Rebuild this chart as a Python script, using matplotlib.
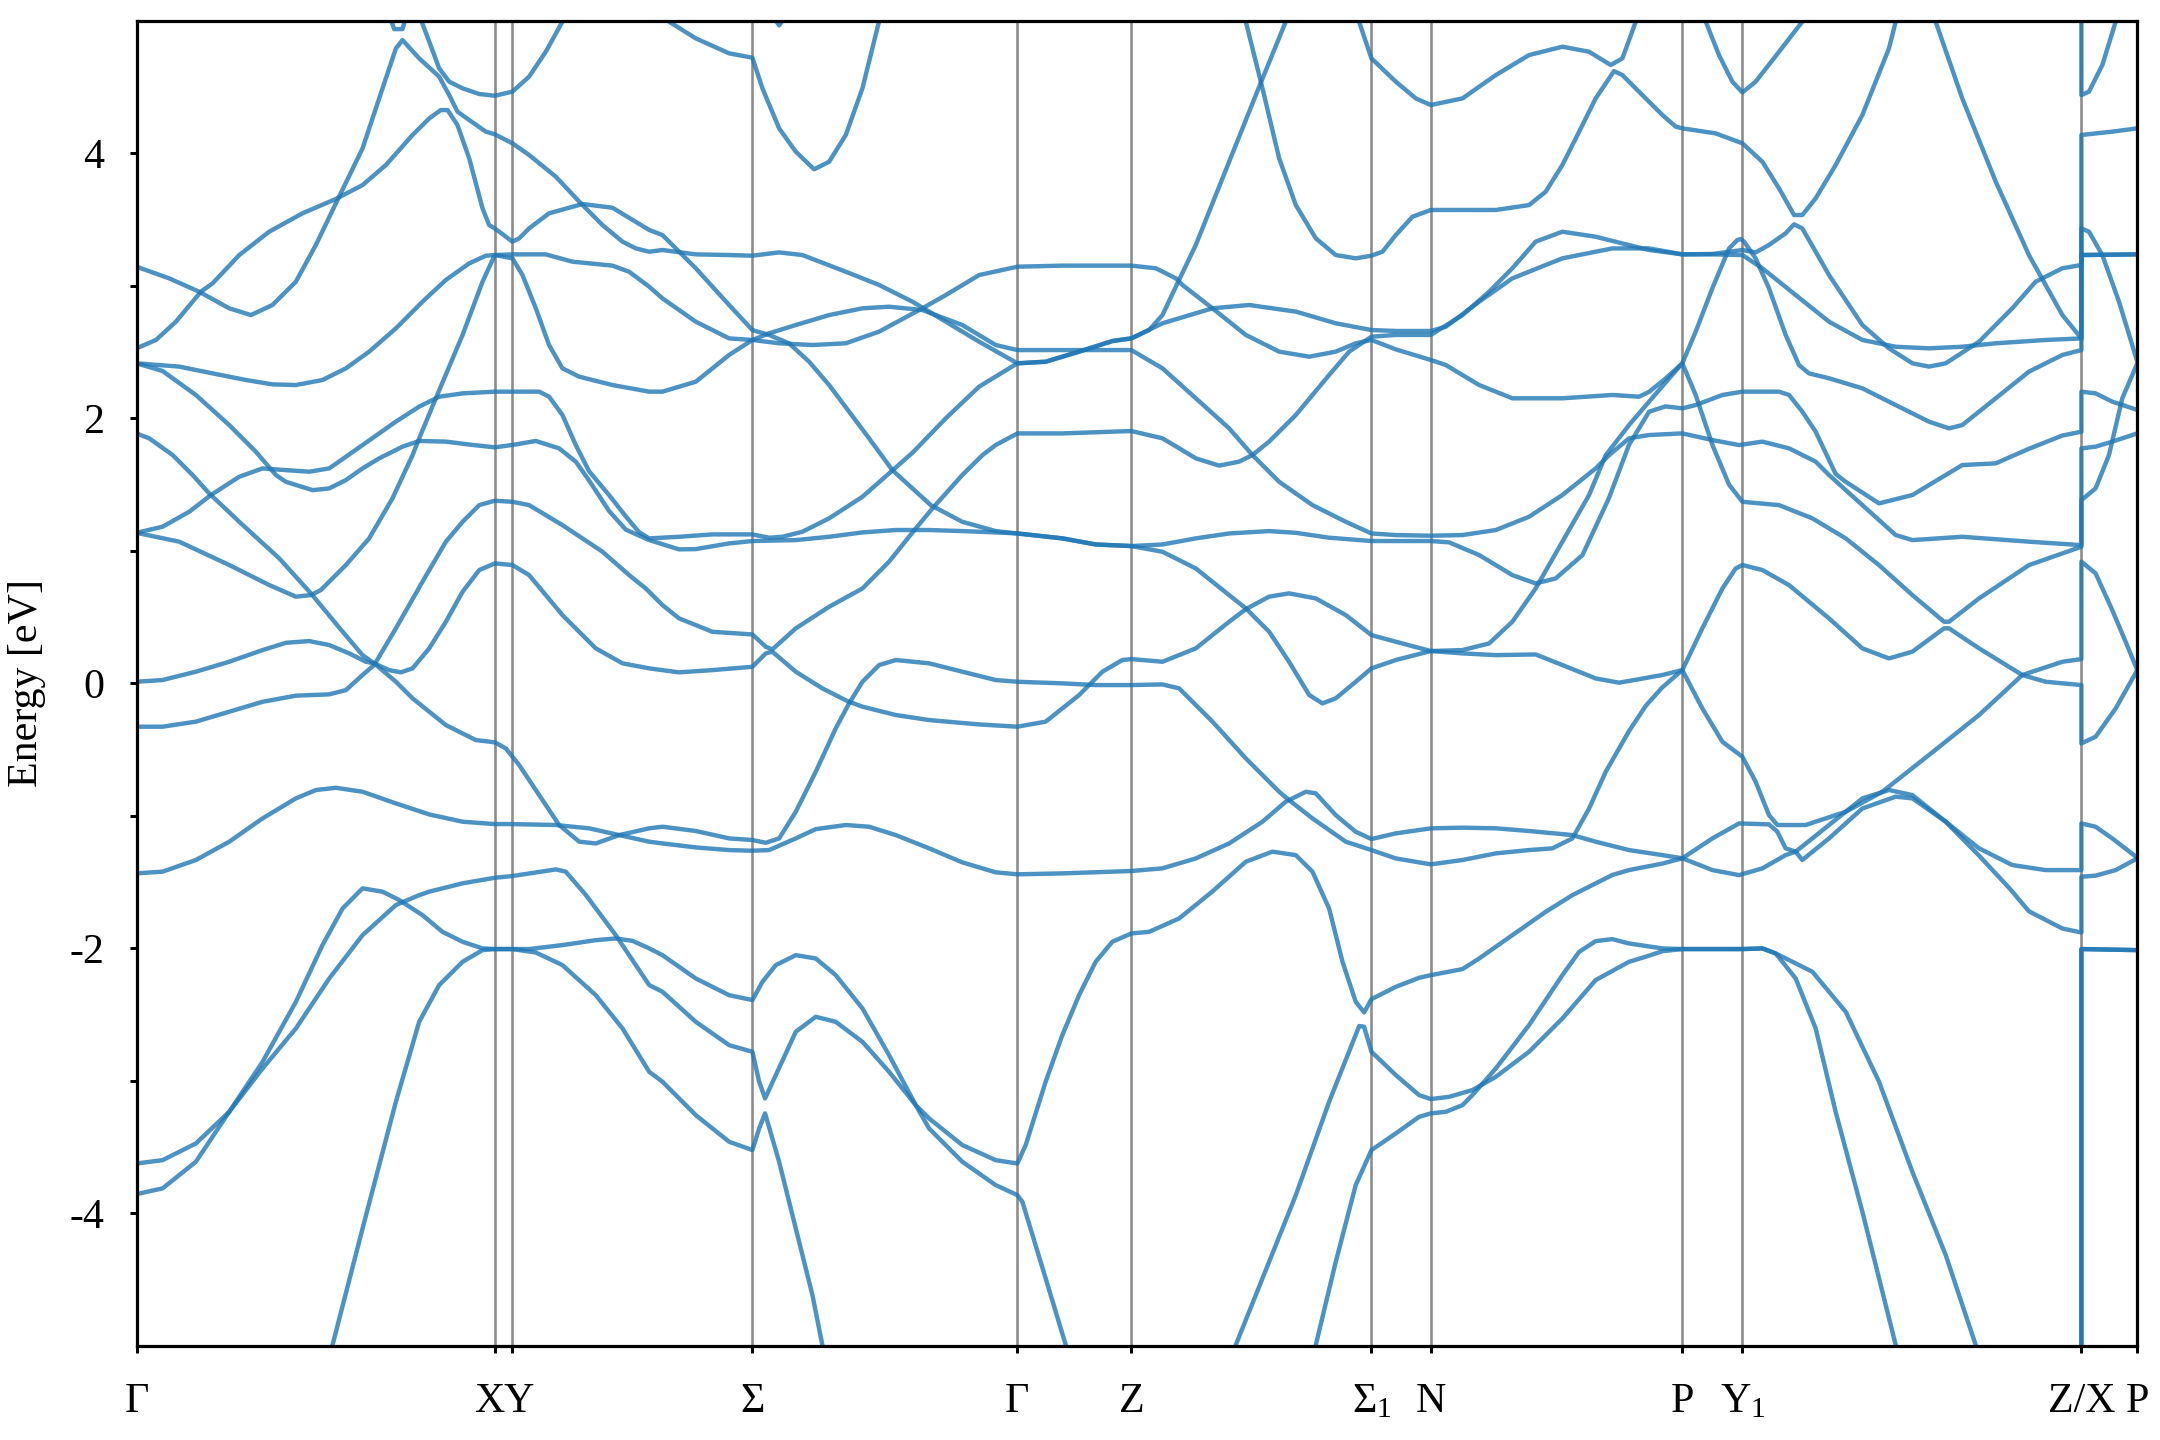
import numpy as np
import matplotlib.pyplot as plt
import matplotlib.transforms as mtransforms

plt.rcParams['font.family'] = ['Liberation Serif', 'DejaVu Serif']
plt.rcParams['mathtext.fontset'] = 'custom'
plt.rcParams['mathtext.rm'] = 'Liberation Serif'
plt.rcParams['mathtext.it'] = 'Liberation Serif:italic'
plt.rcParams['axes.unicode_minus'] = False

# high-symmetry points along the k-path
kpoint_pos = [0.0, 2.601, 2.729, 4.471, 6.395, 7.222, 8.965, 9.396, 11.222, 11.658, 14.119, 14.525]
kpoint_labels = ['Γ', 'X', 'Y', 'Σ', 'Γ', 'Z', r'$\Sigma_1$', 'N', 'P', r'$\mathrm{Y}_1$', 'Z/X', 'P']

# bands: (k, energy in eV)
c01 = [(0.000, 3.144), (0.237, 3.056), (0.455, 2.955), (0.673, 2.830), (0.830, 2.779), (0.987, 2.855),
       (1.157, 3.031), (1.302, 3.308), (1.459, 3.647), (1.641, 4.037), (1.786, 4.490), (1.883, 4.791),
       (1.931, 4.854), (2.052, 4.716), (2.197, 4.578), (2.270, 4.439), (2.330, 4.314), (2.415, 4.251),
       (2.536, 4.163), (2.601, 4.143), (2.729, 4.075), (2.850, 3.987), (3.044, 3.823), (3.214, 3.635),
       (3.383, 3.458), (3.528, 3.333), (3.625, 3.282), (3.722, 3.257), (3.818, 3.270), (4.060, 3.237),
       (4.302, 3.232), (4.471, 3.227), (4.665, 3.252), (4.834, 3.232), (5.149, 3.106), (5.391, 3.006),
       (5.633, 2.880), (5.875, 2.729), (6.117, 2.578), (6.395, 2.415), (6.600, 2.427), (6.843, 2.503),
       (7.084, 2.583), (7.222, 2.603), (7.351, 2.666), (7.448, 2.779), (7.545, 2.993), (7.690, 3.308),
       (7.932, 3.936), (8.150, 4.502), (8.343, 4.993), (8.370, 5.100)]

c02 = [(0.000, 2.528), (0.141, 2.591), (0.286, 2.729), (0.467, 2.955), (0.552, 3.018), (0.746, 3.232),
       (0.963, 3.408), (1.205, 3.547), (1.447, 3.655), (1.641, 3.760), (1.810, 3.911), (2.004, 4.138),
       (2.125, 4.263), (2.209, 4.326), (2.258, 4.326), (2.330, 4.213), (2.415, 3.962), (2.512, 3.584),
       (2.560, 3.458), (2.601, 3.433), (2.729, 3.333), (2.778, 3.358), (2.850, 3.433), (2.995, 3.547),
       (3.238, 3.617), (3.455, 3.589), (3.722, 3.421), (3.818, 3.383), (4.060, 3.132), (4.302, 2.855),
       (4.471, 2.666), (4.592, 2.629), (4.737, 2.566), (4.883, 2.427), (5.028, 2.251), (5.173, 2.050),
       (5.318, 1.849), (5.487, 1.609), (5.633, 1.471), (5.766, 1.345), (5.995, 1.219), (6.237, 1.149),
       (6.395, 1.131), (6.721, 1.094), (6.963, 1.048), (7.222, 1.036), (7.448, 0.993), (7.690, 0.867),
       (7.932, 0.666), (8.053, 0.566), (8.222, 0.390), (8.367, 0.163), (8.513, -0.088), (8.609, -0.151),
       (8.706, -0.113), (8.851, 0.012), (8.965, 0.113), (9.142, 0.176), (9.396, 0.244), (9.626, 0.251),
       (9.819, 0.301), (9.988, 0.465), (10.157, 0.716), (10.351, 1.069), (10.545, 1.421), (10.666, 1.722),
       (10.835, 1.949), (10.981, 2.126), (11.100, 2.270), (11.222, 2.415), (11.319, 2.176), (11.440, 1.800),
       (11.561, 1.500), (11.658, 1.370), (11.924, 1.345), (12.166, 1.245), (12.408, 1.094), (12.650, 0.892),
       (12.892, 0.666), (13.122, 0.465), (13.158, 0.465), (13.376, 0.641), (13.738, 0.892), (14.119, 1.031),
       (14.119, 1.383), (14.222, 1.471), (14.319, 1.722), (14.416, 2.151), (14.525, 2.415)]

c03 = [(0.000, 2.415), (0.310, 2.390), (0.552, 2.339), (0.794, 2.289), (0.987, 2.256), (1.157, 2.251),
       (1.350, 2.289), (1.520, 2.377), (1.689, 2.503), (1.883, 2.679), (2.076, 2.880), (2.246, 3.044),
       (2.415, 3.169), (2.536, 3.227), (2.601, 3.232), (2.729, 3.237), (2.971, 3.237), (3.164, 3.182),
       (3.455, 3.152), (3.576, 3.106), (3.722, 2.993), (3.818, 2.905), (4.060, 2.729), (4.302, 2.603),
       (4.471, 2.591), (4.592, 2.641), (4.786, 2.704), (5.028, 2.779), (5.270, 2.830), (5.463, 2.842),
       (5.705, 2.817), (5.995, 2.704), (6.237, 2.553), (6.395, 2.515), (6.721, 2.515), (7.222, 2.515),
       (7.448, 2.377), (7.690, 2.151), (7.932, 1.924), (8.101, 1.723), (8.295, 1.521), (8.537, 1.345),
       (8.779, 1.219), (8.965, 1.131), (9.142, 1.119), (9.396, 1.114), (9.626, 1.119), (9.868, 1.157),
       (10.109, 1.257), (10.351, 1.421), (10.593, 1.622), (10.690, 1.722), (10.835, 1.849), (10.981, 1.874),
       (11.222, 1.886), (11.440, 1.836), (11.634, 1.798), (11.803, 1.824), (11.997, 1.773), (12.190, 1.673),
       (12.287, 1.572), (12.529, 1.345), (12.771, 1.119), (12.892, 1.081), (13.254, 1.106), (13.738, 1.069),
       (14.119, 1.043), (14.119, 1.773), (14.222, 1.786), (14.343, 1.824), (14.525, 1.886)]

c04 = [(0.000, 2.415), (0.189, 2.357), (0.431, 2.176), (0.673, 1.949), (0.866, 1.748), (1.012, 1.572),
       (1.084, 1.521), (1.278, 1.458), (1.399, 1.471), (1.520, 1.534), (1.641, 1.622), (1.762, 1.698),
       (1.931, 1.786), (2.052, 1.829), (2.246, 1.824), (2.439, 1.799), (2.601, 1.781), (2.729, 1.799),
       (2.899, 1.829), (3.068, 1.773), (3.189, 1.673), (3.286, 1.530), (3.431, 1.300), (3.552, 1.160),
       (3.722, 1.081), (3.939, 1.011), (4.060, 1.013), (4.302, 1.056), (4.471, 1.074), (4.786, 1.081),
       (5.028, 1.106), (5.270, 1.139), (5.512, 1.157), (5.754, 1.157), (5.995, 1.149), (6.237, 1.139),
       (6.395, 1.131), (6.721, 1.094), (6.963, 1.048), (7.222, 1.036), (7.448, 1.048), (7.690, 1.094),
       (7.932, 1.131), (8.222, 1.149), (8.416, 1.136), (8.658, 1.099), (8.965, 1.074), (9.396, 1.074),
       (9.529, 1.064), (9.747, 0.968), (9.988, 0.817), (10.157, 0.754), (10.303, 0.792), (10.497, 0.968),
       (10.690, 1.400), (10.835, 1.800), (10.981, 2.050), (11.100, 2.090), (11.222, 2.075), (11.319, 2.100),
       (11.513, 2.176), (11.658, 2.201), (11.924, 2.201), (11.997, 2.176), (12.093, 2.050), (12.190, 1.899),
       (12.335, 1.580), (12.408, 1.521), (12.650, 1.358), (12.892, 1.421), (13.254, 1.647), (13.497, 1.660),
       (13.738, 1.770), (13.981, 1.870), (14.119, 1.899), (14.119, 2.201), (14.222, 2.188), (14.343, 2.126),
       (14.525, 2.063)]

c05 = [(0.000, 1.886), (0.092, 1.849), (0.262, 1.723), (0.407, 1.572), (0.528, 1.433), (0.746, 1.219),
       (1.036, 0.943), (1.266, 0.679), (1.496, 0.390), (1.641, 0.213), (1.725, 0.151), (1.883, 0.012),
       (2.004, -0.113), (2.246, -0.315), (2.463, -0.428), (2.601, -0.445), (2.681, -0.491), (2.778, -0.617),
       (2.923, -0.843), (3.068, -1.069), (3.214, -1.195), (3.334, -1.208), (3.504, -1.145), (3.722, -1.094),
       (3.818, -1.082), (4.060, -1.114), (4.302, -1.170), (4.471, -1.182), (4.568, -1.203), (4.665, -1.170),
       (4.786, -0.969), (4.931, -0.667), (5.076, -0.340), (5.173, -0.151), (5.270, 0.012), (5.391, 0.138),
       (5.512, 0.176), (5.754, 0.151), (5.995, 0.088), (6.237, 0.025), (6.395, 0.012), (6.721, 0.000),
       (6.963, -0.013), (7.222, -0.013), (7.448, -0.008), (7.569, -0.038), (7.811, -0.289), (8.053, -0.566),
       (8.295, -0.818), (8.367, -0.881), (8.537, -1.019), (8.779, -1.195), (8.965, -1.258), (9.142, -1.321),
       (9.396, -1.366), (9.626, -1.333), (9.868, -1.283), (10.109, -1.258), (10.279, -1.245), (10.424, -1.170),
       (10.545, -0.944), (10.666, -0.667), (10.835, -0.360), (10.956, -0.170), (11.077, -0.030), (11.222, 0.100),
       (11.367, -0.189), (11.513, -0.441), (11.658, -0.554), (11.754, -0.742), (11.851, -0.994), (11.912, -1.069),
       (12.117, -1.069), (12.408, -0.969), (12.674, -0.818), (13.012, -0.541), (13.376, -0.239), (13.690, 0.063),
       (13.981, 0.163), (14.119, 0.183), (14.119, 0.918), (14.222, 0.830), (14.343, 0.553), (14.440, 0.314),
       (14.525, 0.100)]

c06 = [(0.000, 1.136), (0.189, 1.182), (0.383, 1.295), (0.540, 1.421), (0.746, 1.559), (0.915, 1.622),
       (1.084, 1.609), (1.254, 1.597), (1.399, 1.622), (1.641, 1.798), (1.883, 1.975), (2.052, 2.088),
       (2.197, 2.163), (2.367, 2.188), (2.601, 2.201), (2.729, 2.201), (2.923, 2.201), (2.995, 2.163),
       (3.092, 2.025), (3.189, 1.798), (3.286, 1.600), (3.431, 1.420), (3.552, 1.260), (3.649, 1.140),
       (3.722, 1.094), (3.939, 1.106), (4.181, 1.124), (4.471, 1.124), (4.592, 1.099), (4.689, 1.106),
       (4.834, 1.144), (5.028, 1.245), (5.270, 1.408), (5.463, 1.584), (5.633, 1.740), (5.875, 2.000),
       (6.117, 2.239), (6.395, 2.415), (6.600, 2.427), (6.843, 2.503), (7.084, 2.583), (7.222, 2.603),
       (7.448, 2.717), (7.811, 2.830), (8.077, 2.855), (8.416, 2.805), (8.706, 2.717), (8.965, 2.666),
       (9.142, 2.659), (9.396, 2.659), (9.505, 2.691), (9.747, 2.880), (9.988, 3.056), (10.351, 3.207),
       (10.714, 3.282), (10.981, 3.282), (11.222, 3.237), (11.440, 3.237), (11.658, 3.232), (11.803, 3.132),
       (12.045, 2.930), (12.287, 2.729), (12.529, 2.591), (12.771, 2.540), (13.012, 2.528), (13.254, 2.540),
       (13.497, 2.566), (13.859, 2.591), (14.119, 2.603), (14.119, 3.232), (14.525, 3.237)]

c07 = [(0.000, 1.136), (0.310, 1.069), (0.673, 0.893), (0.963, 0.742), (1.157, 0.654), (1.266, 0.666),
       (1.338, 0.704), (1.520, 0.893), (1.689, 1.094), (1.858, 1.396), (2.004, 1.722), (2.052, 1.849),
       (2.173, 2.151), (2.367, 2.629), (2.512, 3.031), (2.601, 3.232), (2.729, 3.207), (2.802, 3.081),
       (2.899, 2.830), (2.995, 2.553), (3.092, 2.377), (3.214, 2.314), (3.455, 2.251), (3.722, 2.201),
       (3.818, 2.201), (4.060, 2.276), (4.302, 2.478), (4.471, 2.591), (4.665, 2.566), (4.907, 2.553),
       (5.149, 2.566), (5.391, 2.654), (5.705, 2.830), (5.875, 2.930), (6.117, 3.081), (6.395, 3.144),
       (6.721, 3.152), (7.222, 3.152), (7.400, 3.132), (7.545, 3.056), (7.593, 3.006), (7.811, 2.830),
       (8.053, 2.629), (8.295, 2.503), (8.513, 2.465), (8.706, 2.503), (8.851, 2.566), (8.965, 2.591),
       (9.142, 2.520), (9.396, 2.440), (9.505, 2.402), (9.747, 2.251), (9.988, 2.151), (10.351, 2.151),
       (10.714, 2.176), (10.908, 2.163), (10.981, 2.200), (11.100, 2.300), (11.222, 2.415), (11.319, 2.654),
       (11.440, 2.981), (11.561, 3.282), (11.621, 3.345), (11.646, 3.353), (11.670, 3.333), (11.754, 3.207),
       (11.851, 2.981), (11.972, 2.629), (12.069, 2.402), (12.141, 2.339), (12.287, 2.302), (12.529, 2.226),
       (12.771, 2.100), (13.012, 1.975), (13.158, 1.924), (13.254, 1.949), (13.497, 2.151), (13.738, 2.352),
       (13.981, 2.478), (14.119, 2.515), (14.119, 3.232), (14.525, 3.237)]

c08 = [(0.000, 0.012), (0.189, 0.025), (0.431, 0.088), (0.673, 0.163), (0.915, 0.251), (1.084, 0.306),
       (1.254, 0.319), (1.399, 0.289), (1.544, 0.226), (1.665, 0.163), (1.725, 0.151), (1.834, 0.100),
       (1.919, 0.083), (2.004, 0.113), (2.125, 0.264), (2.246, 0.465), (2.367, 0.691), (2.488, 0.855),
       (2.601, 0.905), (2.729, 0.893), (2.850, 0.817), (3.092, 0.515), (3.334, 0.264), (3.528, 0.151),
       (3.722, 0.113), (3.939, 0.083), (4.181, 0.100), (4.471, 0.125), (4.568, 0.226), (4.616, 0.239),
       (4.786, 0.088), (4.979, -0.038), (5.161, -0.134), (5.270, -0.176), (5.512, -0.239), (5.754, -0.277),
       (6.117, -0.310), (6.395, -0.327), (6.600, -0.289), (6.843, -0.088), (7.012, 0.088), (7.157, 0.176),
       (7.222, 0.183), (7.448, 0.163), (7.690, 0.264), (7.932, 0.465), (8.053, 0.560), (8.222, 0.654),
       (8.367, 0.679), (8.561, 0.641), (8.779, 0.515), (8.965, 0.364), (9.142, 0.314), (9.396, 0.244),
       (9.626, 0.226), (9.868, 0.213), (10.157, 0.218), (10.351, 0.138), (10.593, 0.037), (10.763, 0.005),
       (10.900, 0.030), (11.077, 0.063), (11.222, 0.100), (11.367, 0.415), (11.513, 0.716), (11.609, 0.867),
       (11.658, 0.893), (11.803, 0.855), (11.997, 0.741), (12.287, 0.490), (12.529, 0.264), (12.722, 0.188),
       (12.892, 0.239), (13.122, 0.415), (13.158, 0.415), (13.376, 0.264), (13.690, 0.063), (13.859, 0.012),
       (14.119, -0.013), (14.119, -0.453), (14.222, -0.403), (14.368, -0.189), (14.525, 0.100)]

c09 = [(0.000, -0.327), (0.189, -0.327), (0.431, -0.289), (0.673, -0.214), (0.915, -0.139), (1.157, -0.093),
       (1.399, -0.083), (1.520, -0.051), (1.641, 0.063), (1.725, 0.138), (1.883, 0.415), (2.076, 0.767),
       (2.246, 1.069), (2.367, 1.219), (2.488, 1.345), (2.601, 1.378), (2.729, 1.370), (2.850, 1.345),
       (3.092, 1.194), (3.383, 0.993), (3.576, 0.817), (3.697, 0.716), (3.818, 0.591), (3.939, 0.490),
       (4.181, 0.389), (4.471, 0.369), (4.568, 0.276), (4.616, 0.256), (4.786, 0.415), (5.028, 0.578),
       (5.270, 0.716), (5.463, 0.918), (5.657, 1.169), (5.778, 1.320), (5.995, 1.572), (6.141, 1.722),
       (6.237, 1.798), (6.395, 1.886), (6.721, 1.886), (7.222, 1.904), (7.448, 1.849), (7.690, 1.698),
       (7.859, 1.643), (8.005, 1.673), (8.101, 1.723), (8.222, 1.824), (8.416, 2.025), (8.658, 2.327),
       (8.803, 2.503), (8.965, 2.616), (9.142, 2.629), (9.396, 2.629), (9.626, 2.779), (9.819, 2.955),
       (9.988, 3.132), (10.157, 3.333), (10.351, 3.408), (10.593, 3.370), (10.835, 3.307), (10.981, 3.270),
       (11.222, 3.237), (11.440, 3.240), (11.658, 3.270), (11.754, 3.252), (11.851, 3.308), (11.972, 3.396),
       (12.033, 3.464), (12.093, 3.433), (12.287, 3.081), (12.529, 2.704), (12.722, 2.528), (12.892, 2.415),
       (13.012, 2.390), (13.134, 2.415), (13.376, 2.578), (13.617, 2.830), (13.787, 3.031), (13.981, 3.132),
       (14.119, 3.157), (14.119, 4.138), (14.343, 4.163), (14.525, 4.188)]

c10 = [(0.000, -1.434), (0.189, -1.421), (0.431, -1.333), (0.673, -1.195), (0.915, -1.019), (1.157, -0.868),
       (1.302, -0.805), (1.447, -0.788), (1.641, -0.818), (1.883, -0.906), (2.125, -0.989), (2.367, -1.044),
       (2.601, -1.062), (2.729, -1.062), (3.044, -1.069), (3.286, -1.094), (3.504, -1.145), (3.722, -1.195),
       (3.818, -1.208), (4.060, -1.238), (4.302, -1.258), (4.471, -1.263), (4.592, -1.258), (4.786, -1.170),
       (4.931, -1.100), (5.149, -1.069), (5.318, -1.082), (5.512, -1.145), (5.754, -1.245), (5.995, -1.351),
       (6.237, -1.426), (6.395, -1.441), (6.721, -1.434), (7.222, -1.416), (7.448, -1.396), (7.690, -1.321),
       (7.932, -1.208), (8.174, -1.044), (8.343, -0.893), (8.489, -0.818), (8.561, -0.830), (8.706, -0.994),
       (8.851, -1.120), (8.965, -1.175), (9.142, -1.132), (9.396, -1.094), (9.626, -1.089), (9.868, -1.094),
       (10.109, -1.114), (10.424, -1.145), (10.593, -1.195), (10.835, -1.258), (11.077, -1.296), (11.222, -1.320),
       (11.440, -1.170), (11.634, -1.057), (11.851, -1.064), (11.912, -1.120), (11.972, -1.245), (12.045, -1.270),
       (12.093, -1.333), (12.287, -1.170), (12.529, -0.944), (12.771, -0.855), (12.892, -0.868), (13.134, -1.044),
       (13.376, -1.245), (13.617, -1.371), (13.859, -1.409), (14.119, -1.409), (14.119, -1.057), (14.222, -1.082),
       (14.343, -1.170), (14.525, -1.316)]

c11 = [(0.000, -3.623), (0.189, -3.598), (0.431, -3.472), (0.673, -3.233), (0.915, -2.856), (1.157, -2.403),
       (1.350, -1.975), (1.496, -1.699), (1.592, -1.598), (1.641, -1.547), (1.786, -1.572), (1.907, -1.635),
       (2.076, -1.749), (2.221, -1.875), (2.367, -1.950), (2.512, -2.000), (2.601, -2.005), (2.850, -2.005),
       (3.092, -1.975), (3.334, -1.938), (3.479, -1.925), (3.600, -1.943), (3.722, -2.000), (3.818, -2.051),
       (4.060, -2.227), (4.302, -2.353), (4.471, -2.390), (4.544, -2.252), (4.641, -2.126), (4.786, -2.051),
       (4.931, -2.076), (5.076, -2.202), (5.270, -2.453), (5.463, -2.805), (5.657, -3.183), (5.754, -3.359),
       (5.995, -3.610), (6.237, -3.786), (6.395, -3.862), (6.431, -3.912), (6.600, -4.490), (6.746, -4.993),
       (6.760, -5.100)]

c12 = [(0.000, -3.854), (0.189, -3.811), (0.431, -3.610), (0.673, -3.233), (0.915, -2.906), (1.157, -2.604),
       (1.399, -2.227), (1.641, -1.900), (1.883, -1.673), (2.052, -1.598), (2.125, -1.572), (2.367, -1.509),
       (2.601, -1.467), (2.729, -1.454), (3.044, -1.404), (3.116, -1.421), (3.262, -1.597), (3.479, -1.900),
       (3.722, -2.277), (3.818, -2.327), (4.060, -2.554), (4.302, -2.730), (4.471, -2.780), (4.520, -3.006),
       (4.563, -3.132), (4.641, -2.956), (4.786, -2.629), (4.931, -2.516), (5.076, -2.554), (5.270, -2.705),
       (5.463, -2.931), (5.657, -3.183), (5.754, -3.283), (5.995, -3.484), (6.237, -3.598), (6.395, -3.623),
       (6.455, -3.484), (6.600, -3.006), (6.721, -2.654), (6.843, -2.352), (6.963, -2.101), (7.084, -1.950),
       (7.222, -1.887), (7.351, -1.875), (7.569, -1.774), (7.811, -1.570), (8.053, -1.346), (8.246, -1.270),
       (8.416, -1.296), (8.537, -1.421), (8.658, -1.700), (8.755, -2.101), (8.851, -2.403), (8.912, -2.483),
       (8.965, -2.383), (9.142, -2.290), (9.311, -2.222), (9.396, -2.202), (9.626, -2.156), (9.747, -2.076),
       (9.988, -1.900), (10.230, -1.724), (10.424, -1.598), (10.714, -1.446), (10.835, -1.409), (11.077, -1.360),
       (11.222, -1.320), (11.440, -1.409), (11.634, -1.447), (11.803, -1.396), (11.972, -1.296), (12.045, -1.270),
       (12.287, -1.069), (12.529, -0.868), (12.722, -0.805), (12.892, -0.843), (13.134, -1.044), (13.376, -1.300),
       (13.600, -1.550), (13.738, -1.720), (13.981, -1.850), (14.119, -1.880), (14.119, -1.459), (14.222, -1.451),
       (14.368, -1.409), (14.525, -1.321)]

c13 = [(1.400, -5.100), (1.423, -4.993), (1.641, -4.113), (1.883, -3.157), (2.052, -2.554), (2.197, -2.277),
       (2.367, -2.101), (2.512, -2.013), (2.601, -2.005), (2.729, -2.005), (2.899, -2.031), (3.092, -2.126),
       (3.334, -2.353), (3.528, -2.604), (3.722, -2.931), (3.818, -3.006), (4.060, -3.258), (4.302, -3.459),
       (4.471, -3.522), (4.520, -3.359), (4.563, -3.245), (4.665, -3.610), (4.786, -4.113), (4.907, -4.616),
       (4.979, -4.993), (4.990, -5.100)]

c14 = [(2.040, 5.100), (2.052, 5.043), (2.125, 4.842), (2.197, 4.641), (2.270, 4.540), (2.367, 4.490),
       (2.488, 4.447), (2.601, 4.434), (2.729, 4.465), (2.850, 4.578), (2.971, 4.766), (3.092, 4.993),
       (3.120, 5.100)]
c15 = [(1.820, 5.080), (1.871, 4.937), (1.931, 4.937), (1.970, 5.080)]
c16 = [(3.850, 5.100), (3.866, 4.993), (4.060, 4.867), (4.302, 4.754), (4.471, 4.721), (4.544, 4.490),
       (4.665, 4.188), (4.786, 4.012), (4.919, 3.879), (5.028, 3.936), (5.149, 4.138), (5.270, 4.490),
       (5.390, 4.993), (5.410, 5.100)]
c17 = [(4.600, 5.060), (4.665, 4.965), (4.730, 5.060)]

c18 = [(7.970, -5.100), (7.980, -4.993), (8.174, -4.490), (8.416, -3.862), (8.658, -3.157), (8.876, -2.586),
       (8.912, -2.591), (8.965, -2.780), (9.142, -2.956), (9.311, -3.107), (9.396, -3.137), (9.529, -3.120),
       (9.698, -3.069), (9.868, -2.969), (10.109, -2.780), (10.351, -2.529), (10.593, -2.239), (10.835, -2.101),
       (10.956, -2.063), (11.077, -2.021), (11.222, -2.005), (11.658, -2.005), (11.803, -2.000), (11.900, -2.038),
       (12.045, -2.227), (12.190, -2.604), (12.335, -3.233), (12.529, -3.987), (12.771, -4.993), (12.800, -5.100),
       (14.119, -6.000), (14.119, -2.005), (14.525, -2.013)]

c19 = [(8.550, -5.100), (8.561, -4.993), (8.706, -4.365), (8.851, -3.786), (8.965, -3.522), (9.142, -3.396),
       (9.311, -3.271), (9.396, -3.245), (9.505, -3.233), (9.626, -3.183), (9.698, -3.107), (9.868, -2.906),
       (10.109, -2.579), (10.351, -2.202), (10.473, -2.026), (10.593, -1.945), (10.714, -1.930), (10.835, -1.963),
       (11.077, -2.000), (11.222, -2.005), (11.658, -2.005), (11.803, -2.000), (11.900, -2.038), (12.166, -2.176),
       (12.408, -2.478), (12.650, -3.006), (12.892, -3.686), (13.134, -4.314), (13.352, -4.993), (13.380, -5.100),
       (14.119, -6.000), (14.119, -2.005), (14.525, -2.013)]

c20 = [(11.370, 5.100), (11.392, 4.993), (11.488, 4.741), (11.585, 4.540), (11.658, 4.459), (11.754, 4.540),
       (11.924, 4.766), (12.093, 4.993), (12.110, 5.100)]

c21 = [(12.990, 5.100), (13.061, 4.993), (13.254, 4.414), (13.497, 3.786), (13.738, 3.232), (13.981, 2.779),
       (14.119, 2.603), (14.119, 3.433), (14.174, 3.408), (14.271, 3.232), (14.392, 2.880), (14.525, 2.427)]

c22 = [(8.040, 5.100), (8.053, 4.993), (8.174, 4.490), (8.295, 3.962), (8.416, 3.609), (8.561, 3.358),
       (8.706, 3.232), (8.851, 3.207), (8.965, 3.227), (9.045, 3.257), (9.142, 3.383), (9.263, 3.521),
       (9.396, 3.572), (9.626, 3.572), (9.868, 3.572), (10.109, 3.609), (10.230, 3.710), (10.351, 3.911),
       (10.473, 4.163), (10.593, 4.414), (10.726, 4.620), (10.787, 4.590), (10.835, 4.540), (10.956, 4.414),
       (11.077, 4.289), (11.174, 4.201), (11.222, 4.188), (11.464, 4.150), (11.658, 4.075), (11.803, 3.936),
       (11.924, 3.735), (12.033, 3.534), (12.093, 3.534), (12.190, 3.660), (12.335, 3.911), (12.529, 4.289),
       (12.722, 4.791), (12.771, 4.993), (12.800, 5.200), (14.119, 6.000), (14.119, 4.439), (14.174, 4.465),
       (14.271, 4.666), (14.368, 4.993), (14.390, 5.200)]

c23 = [(8.860, 5.100), (8.875, 4.993), (8.965, 4.716), (9.142, 4.540), (9.287, 4.414), (9.396, 4.364),
       (9.626, 4.414), (9.868, 4.590), (10.109, 4.741), (10.351, 4.804), (10.545, 4.766), (10.702, 4.666),
       (10.787, 4.716), (10.884, 4.993), (10.900, 5.100)]

bands = [c01, c02, c03, c04, c05, c06, c07, c08, c09, c10, c11, c12,
         c13, c14, c15, c16, c17, c18, c19, c20, c21, c22, c23]

fig = plt.figure(figsize=(15, 10), dpi=144)
ax = fig.add_axes([0.0632, 0.0653, 0.9263, 0.9203])

for b in bands:
    k, e = np.array(b).T
    ax.plot(k, e, color='#1f77b4', lw=2.2, alpha=0.8, solid_joinstyle='round', solid_capstyle='round')

for kp in kpoint_pos[1:-1]:
    ax.axvline(kp, color='k', lw=1.3, alpha=0.45, zorder=0)

ax.set_xlim(kpoint_pos[0], kpoint_pos[-1])
ax.set_ylim(-5, 5)
ax.set_xticks(kpoint_pos)
ax.set_xticklabels(kpoint_labels)
ax.set_yticks([-4, -2, 0, 2, 4])
ax.set_yticks([-3, -1, 1, 3], minor=True)
ax.set_ylabel('Energy [eV]', fontsize=21)
ax.yaxis.set_label_coords(-0.045, 0.5)
ax.tick_params(axis='both', which='both', labelsize=21, direction='out', length=3.5, width=1.5)
ax.tick_params(axis='x', pad=15)
ax.tick_params(axis='y', pad=12.5)
for s in ax.spines.values():
    s.set_linewidth(1.6)

# X and Y sit very close together on the path: nudge their labels apart a little
xtl = ax.get_xticklabels()
xtl[1].set_transform(xtl[1].get_transform() + mtransforms.ScaledTranslation(-3 / 72, 0, fig.dpi_scale_trans))
xtl[2].set_transform(xtl[2].get_transform() + mtransforms.ScaledTranslation(3 / 72, 0, fig.dpi_scale_trans))

fig.savefig('out.png', dpi=144)
